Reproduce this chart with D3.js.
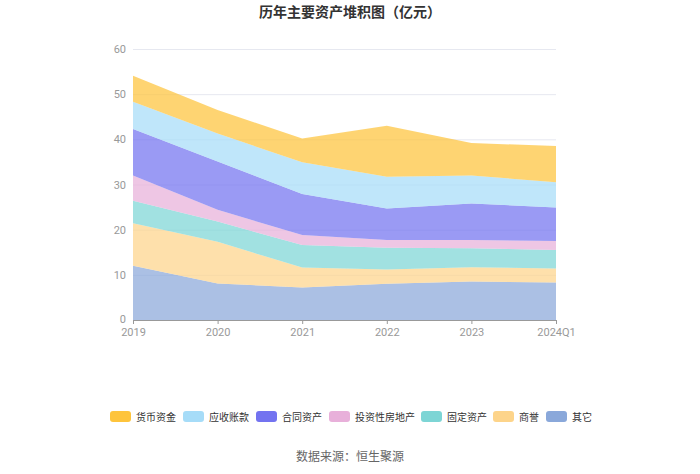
<!DOCTYPE html>
<html><head><meta charset="utf-8">
<script src="https://cdn.jsdelivr.net/npm/d3@7/dist/d3.min.js"></script>
<style>body{margin:0;background:#fff;}svg{display:block;font-family:"Noto Sans CJK SC","Noto Sans",sans-serif;}</style>
</head><body>
<svg id="chart" width="700" height="474"></svg>
<script>
const categories = ["2019","2020","2021","2022","2023","2024Q1"];
const seriesNames = ["货币资金","应收账款","合同资产","投资性房地产","固定资产","商誉","其它"];
const cash =        [5.8, 5.2, 5.3, 11.3, 7.2, 8.0];
const receivables = [6.0, 6.2, 7.0, 7.0, 6.2, 5.6];
const contract =    [10.3, 10.7, 9.1, 7.0, 8.1, 7.4];
const investProp =  [5.6, 2.6, 2.2, 1.7, 1.8, 2.0];
const fixedAssets = [5.0, 4.5, 5.0, 4.8, 4.2, 4.1];
const goodwill =    [9.4, 9.2, 4.4, 3.2, 3.2, 3.1];
const others =      [12.0, 8.1, 7.2, 8.0, 8.5, 8.3];
const yTicks = [0,10,20,30,40,50,60];
const colors = ["#fec43c","#a6dcf8","#7373f0","#e8b0da","#7dd5d5","#fdd48a","#8aa8da"];

const seriesValues = [cash, receivables, contract, investProp, fixedAssets, goodwill, others];
const stackOrder = [6,5,4,3,2,1,0];
const rows = categories.map((c,i)=>{const r={cat:c}; seriesNames.forEach((n,k)=>r[n]=seriesValues[k][i]); return r;});
const stack = d3.stack().keys(stackOrder.map(k=>seriesNames[k]));
const stacked = stack(rows);

const svg = d3.select("#chart");
const x = d3.scalePoint().domain(categories).range([133,556]);
const y = d3.scaleLinear().domain([0,60]).range([320,49]);

svg.append("g").selectAll("line").data(yTicks.filter(t=>t>0)).join("line")
  .attr("x1",133).attr("x2",556).attr("y1",d=>y(d)+0.5).attr("y2",d=>y(d)+0.5)
  .attr("stroke","#e6e8f0").attr("stroke-width",1);

const area = d3.area().x(d=>x(d.data.cat)).y0(d=>y(d[0])).y1(d=>y(d[1]));
svg.append("g").selectAll("path").data(stacked).join("path")
  .attr("d",area)
  .attr("fill",d=>colors[seriesNames.indexOf(d.key)])
  .attr("fill-opacity",0.72);

const xAxis = d3.axisBottom(x).tickSize(4).tickPadding(4);
const gx = svg.append("g").attr("transform","translate(0,320)").call(xAxis);
gx.select(".domain").attr("stroke","#999").attr("d","M133,0.5H556");
gx.selectAll(".tick line").attr("stroke","#999");
gx.selectAll("text").attr("fill","#999").style("font-size","11px").style("font-family","Roboto, 'Noto Sans', sans-serif");

const yAxis = d3.axisLeft(y).tickValues(yTicks).tickSize(0).tickPadding(7);
const gy = svg.append("g").attr("transform","translate(133,0)").call(yAxis);
gy.select(".domain").remove();
gy.selectAll("text").attr("fill","#999").style("font-size","11px").style("font-family","Roboto, 'Noto Sans', sans-serif");
gy.selectAll(".tick text").filter(d=>d===0).attr("dy","0.2em");

svg.append("text").attr("x",350).attr("y",17).attr("text-anchor","middle")
  .attr("fill","#333").style("font-size","14px").style("font-weight","bold").text("历年主要资产堆积图（亿元）");

const legendX = [110,183,256,329,421,493,546];
const lg = svg.append("g").selectAll("g").data(seriesNames).join("g")
  .attr("transform",(d,i)=>`translate(${legendX[i]},411)`);
lg.append("rect").attr("width",21).attr("height",11).attr("rx",3)
  .attr("fill",(d,i)=>colors[i]);
lg.append("text").attr("x",26).attr("y",9.5).attr("fill","#333")
  .style("font-size","10px").text(d=>d);

svg.append("text").attr("x",350).attr("y",461).attr("text-anchor","middle")
  .attr("fill","#666").style("font-size","12px").text("数据来源：恒生聚源");
</script>
</body></html>
